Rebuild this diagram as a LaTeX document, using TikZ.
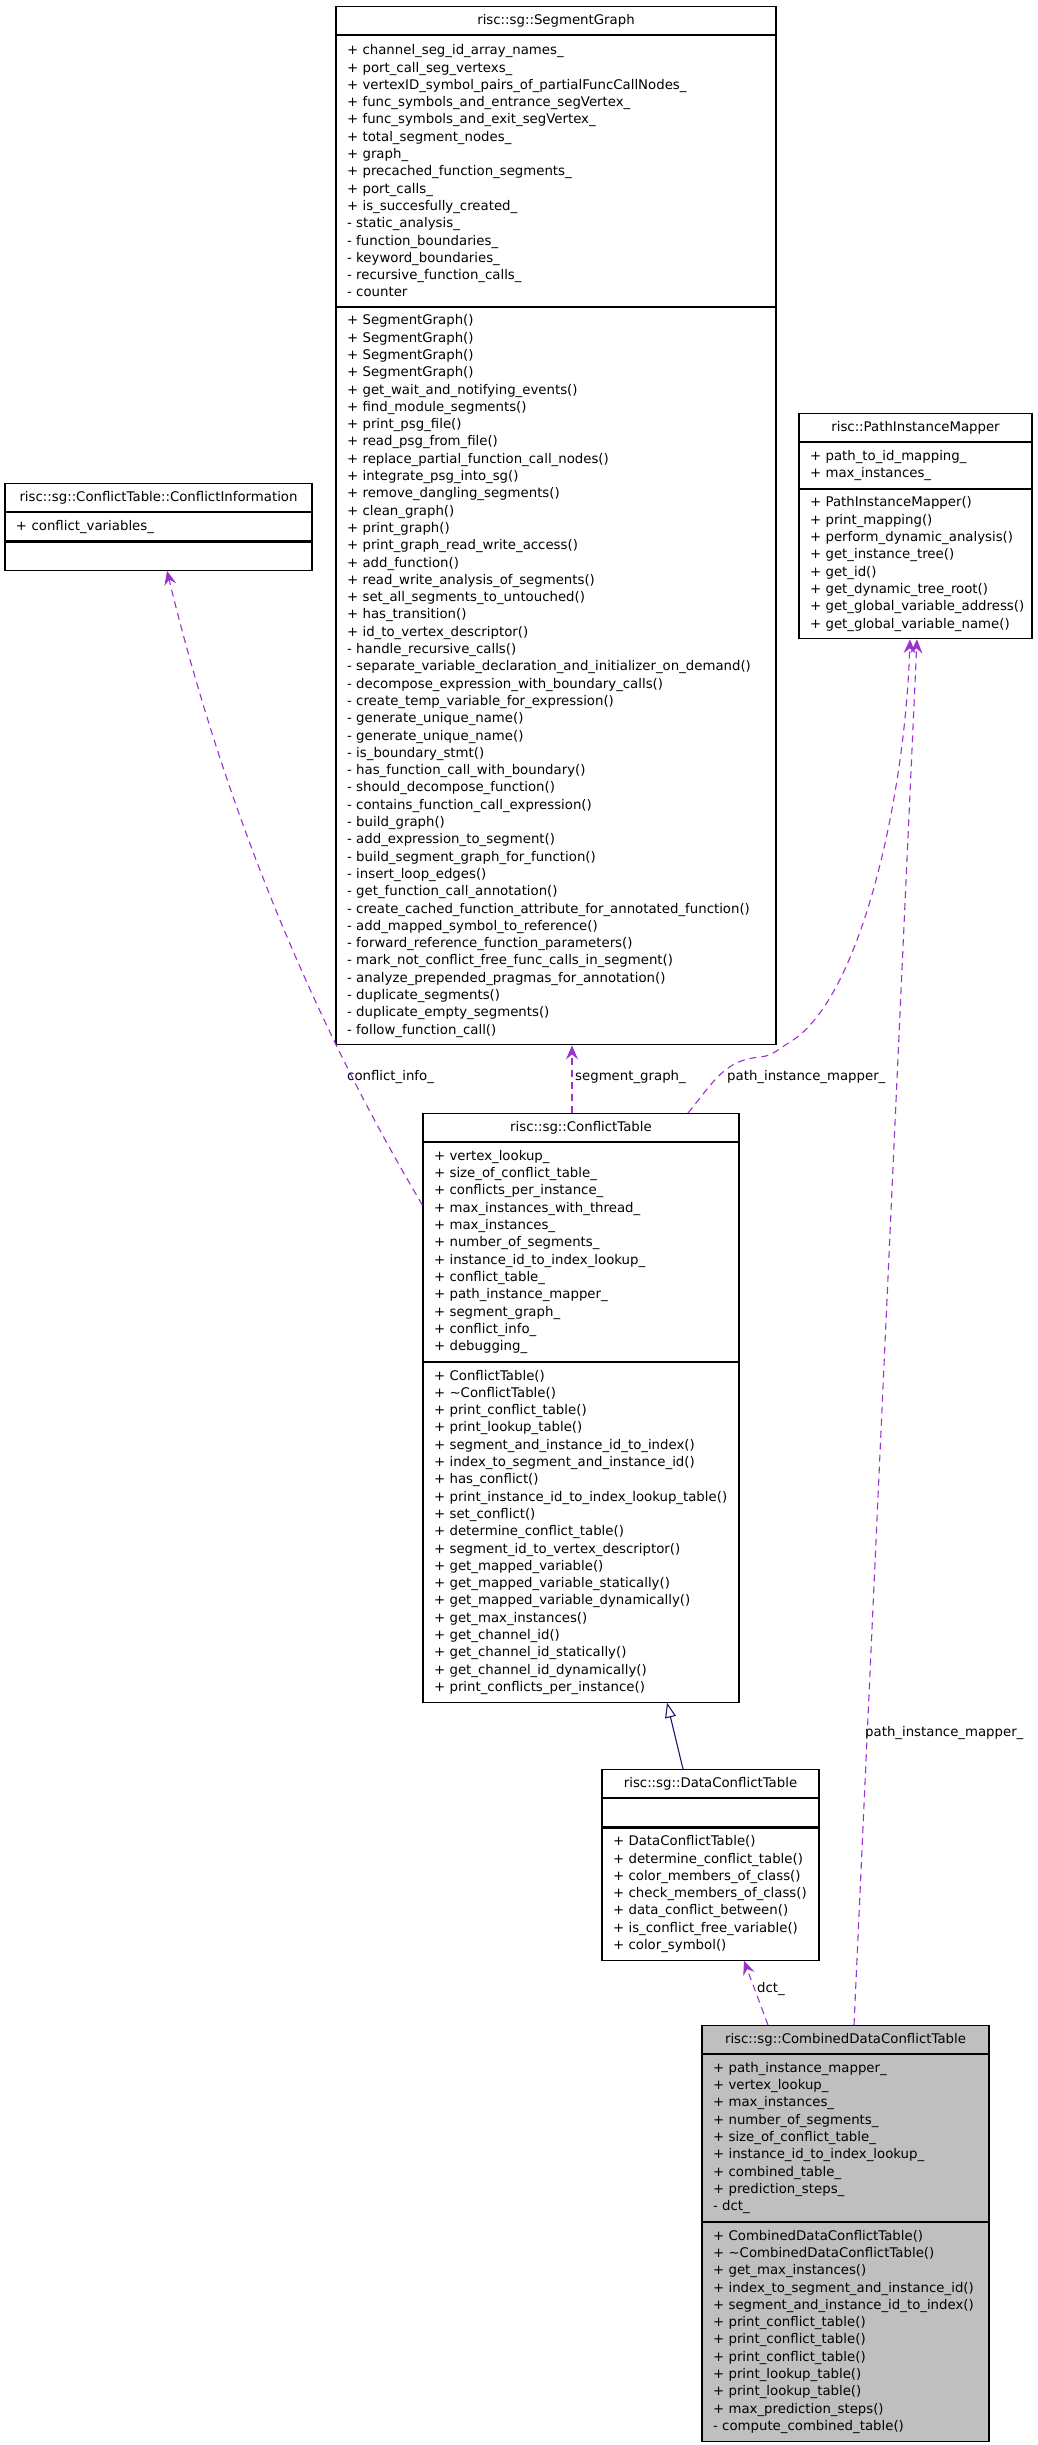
\documentclass[tikz,border=0pt]{standalone}
\usepackage{fontspec}
\setmainfont{DejaVu Sans}
\usetikzlibrary{arrows.meta,positioning}
\definecolor{usecol}{HTML}{9A32CD}
\definecolor{inhcol}{HTML}{191970}
\definecolor{curfill}{HTML}{BFBFBF}
\tikzset{
  cls/.style={draw=black, line width=1.1pt, fill=white, inner xsep=11pt, inner ysep=0pt, anchor=north},
  clstitle/.style={cls, align=center, minimum height=28pt},
  clsbody/.style={cls, align=left, minimum height={17.3*#1+11}},
  uses/.style={draw=usecol, line width=1.1pt, dash pattern=on 7pt off 5pt,
    -{Stealth[length=14pt,width=12pt,inset=5pt]}},
  inherits/.style={draw=inhcol, line width=1.1pt, -{Triangle[open,length=15pt,width=11pt,fill=white]}},
  lbl/.style={inner sep=0pt, anchor=west},
}
\begin{document}
\begin{tikzpicture}[x=1pt, y=-1pt, font=\fontsize{13.3}{17.3}\selectfont]
  \useasboundingbox (0,0) rectangle (1037,2445);

  % SegmentGraph
  \node[clstitle, text width=418pt] (sg) at (556,6) {risc::sg::SegmentGraph};
  \node[clsbody=15, text width=418pt, below=0pt of sg] (sgattr) {%
    +~channel\_seg\_id\_array\_names\_\\
    +~port\_call\_seg\_vertexs\_\\
    +~vertexID\_symbol\_pairs\_of\_partialFuncCallNodes\_\\
    +~func\_symbols\_and\_entrance\_segVertex\_\\
    +~func\_symbols\_and\_exit\_segVertex\_\\
    +~total\_segment\_nodes\_\\
    +~graph\_\\
    +~precached\_function\_segments\_\\
    +~port\_calls\_\\
    +~is\_succesfully\_created\_\\
    -~static\_analysis\_\\
    -~function\_boundaries\_\\
    -~keyword\_boundaries\_\\
    -~recursive\_function\_calls\_\\
    -~counter};
  \node[clsbody=42, text width=418pt, below=0pt of sgattr] (sgops) {%
    +~SegmentGraph()\\
    +~SegmentGraph()\\
    +~SegmentGraph()\\
    +~SegmentGraph()\\
    +~get\_wait\_and\_notifying\_events()\\
    +~find\_module\_segments()\\
    +~print\_psg\_file()\\
    +~read\_psg\_from\_file()\\
    +~replace\_partial\_function\_call\_nodes()\\
    +~integrate\_psg\_into\_sg()\\
    +~remove\_dangling\_segments()\\
    +~clean\_graph()\\
    +~print\_graph()\\
    +~print\_graph\_read\_write\_access()\\
    +~add\_function()\\
    +~read\_write\_analysis\_of\_segments()\\
    +~set\_all\_segments\_to\_untouched()\\
    +~has\_transition()\\
    +~id\_to\_vertex\_descriptor()\\
    -~handle\_recursive\_calls()\\
    -~separate\_variable\_declaration\_and\_initializer\_on\_demand()\\
    -~decompose\_expression\_with\_boundary\_calls()\\
    -~create\_temp\_variable\_for\_expression()\\
    -~generate\_unique\_name()\\
    -~generate\_unique\_name()\\
    -~is\_boundary\_stmt()\\
    -~has\_function\_call\_with\_boundary()\\
    -~should\_decompose\_function()\\
    -~contains\_function\_call\_expression()\\
    -~build\_graph()\\
    -~add\_expression\_to\_segment()\\
    -~build\_segment\_graph\_for\_function()\\
    -~insert\_loop\_edges()\\
    -~get\_function\_call\_annotation()\\
    -~create\_cached\_function\_attribute\_for\_annotated\_function()\\
    -~add\_mapped\_symbol\_to\_reference()\\
    -~forward\_reference\_function\_parameters()\\
    -~mark\_not\_conflict\_free\_func\_calls\_in\_segment()\\
    -~analyze\_prepended\_pragmas\_for\_annotation()\\
    -~duplicate\_segments()\\
    -~duplicate\_empty\_segments()\\
    -~follow\_function\_call()};

  % ConflictInformation
  \node[clstitle, text width=285pt] (ci) at (158.5,483) {risc::sg::ConflictTable::ConflictInformation};
  \node[clsbody=1, text width=285pt, below=0pt of ci] (ciattr) {+~conflict\_variables\_};
  \node[clsbody=1, text width=285pt, below=0pt of ciattr] (ciops) {};

  % PathInstanceMapper
  \node[clstitle, text width=211pt] (pim) at (915.5,413) {risc::PathInstanceMapper};
  \node[clsbody=2, text width=211pt, below=0pt of pim] (pimattr) {%
    +~path\_to\_id\_mapping\_\\
    +~max\_instances\_};
  \node[clsbody=8, text width=211pt, below=0pt of pimattr] (pimops) {%
    +~PathInstanceMapper()\\
    +~print\_mapping()\\
    +~perform\_dynamic\_analysis()\\
    +~get\_instance\_tree()\\
    +~get\_id()\\
    +~get\_dynamic\_tree\_root()\\
    +~get\_global\_variable\_address()\\
    +~get\_global\_variable\_name()};

  % ConflictTable
  \node[clstitle, text width=294pt] (ct) at (581,1113) {risc::sg::ConflictTable};
  \node[clsbody=12, text width=294pt, below=0pt of ct] (ctattr) {%
    +~vertex\_lookup\_\\
    +~size\_of\_conflict\_table\_\\
    +~conflicts\_per\_instance\_\\
    +~max\_instances\_with\_thread\_\\
    +~max\_instances\_\\
    +~number\_of\_segments\_\\
    +~instance\_id\_to\_index\_lookup\_\\
    +~conflict\_table\_\\
    +~path\_instance\_mapper\_\\
    +~segment\_graph\_\\
    +~conflict\_info\_\\
    +~debugging\_};
  \node[clsbody=19, text width=294pt, below=0pt of ctattr] (ctops) {%
    +~ConflictTable()\\
    +~\textasciitilde ConflictTable()\\
    +~print\_conflict\_table()\\
    +~print\_lookup\_table()\\
    +~segment\_and\_instance\_id\_to\_index()\\
    +~index\_to\_segment\_and\_instance\_id()\\
    +~has\_conflict()\\
    +~print\_instance\_id\_to\_index\_lookup\_table()\\
    +~set\_conflict()\\
    +~determine\_conflict\_table()\\
    +~segment\_id\_to\_vertex\_descriptor()\\
    +~get\_mapped\_variable()\\
    +~get\_mapped\_variable\_statically()\\
    +~get\_mapped\_variable\_dynamically()\\
    +~get\_max\_instances()\\
    +~get\_channel\_id()\\
    +~get\_channel\_id\_statically()\\
    +~get\_channel\_id\_dynamically()\\
    +~print\_conflicts\_per\_instance()};

  % DataConflictTable
  \node[clstitle, text width=195pt] (dct) at (710.5,1769) {risc::sg::DataConflictTable};
  \node[clsbody=1, text width=195pt, below=0pt of dct] (dctattr) {};
  \node[clsbody=7, text width=195pt, below=0pt of dctattr] (dctops) {%
    +~DataConflictTable()\\
    +~determine\_conflict\_table()\\
    +~color\_members\_of\_class()\\
    +~check\_members\_of\_class()\\
    +~data\_conflict\_between()\\
    +~is\_conflict\_free\_variable()\\
    +~color\_symbol()};

  % CombinedDataConflictTable
  \node[clstitle, fill=curfill, text width=265pt] (cdct) at (845.5,2025) {risc::sg::CombinedDataConflictTable};
  \node[clsbody=9, fill=curfill, text width=265pt, below=0pt of cdct] (cdctattr) {%
    +~path\_instance\_mapper\_\\
    +~vertex\_lookup\_\\
    +~max\_instances\_\\
    +~number\_of\_segments\_\\
    +~size\_of\_conflict\_table\_\\
    +~instance\_id\_to\_index\_lookup\_\\
    +~combined\_table\_\\
    +~prediction\_steps\_\\
    -~dct\_};
  \node[clsbody=12, fill=curfill, text width=265pt, below=0pt of cdctattr] (cdctops) {%
    +~CombinedDataConflictTable()\\
    +~\textasciitilde CombinedDataConflictTable()\\
    +~get\_max\_instances()\\
    +~index\_to\_segment\_and\_instance\_id()\\
    +~segment\_and\_instance\_id\_to\_index()\\
    +~print\_conflict\_table()\\
    +~print\_conflict\_table()\\
    +~print\_conflict\_table()\\
    +~print\_lookup\_table()\\
    +~print\_lookup\_table()\\
    +~max\_prediction\_steps()\\
    -~compute\_combined\_table()};

  % relations
  \draw[inherits] ([xshift=-27.5pt]dct.north) -- ([xshift=86pt]ctops.south);
  \draw[uses] ([xshift=-9pt]ct.north) -- ([xshift=16pt]sgops.south);
  \draw[uses] ([yshift=-63pt]ctattr.north west) .. controls (297,994) and (217,777) .. ([xshift=8.5pt]ciops.south);
  \draw[uses] ([xshift=107pt]ct.north) .. controls (715,1080) and (725,1060) .. (760,1057)
    .. controls (772,1056) and (777,1050) .. (790,1042)
    .. controls (860,1000) and (905,800) .. ([xshift=-5.5pt]pimops.south);
  \draw[uses] ([xshift=8.5pt]cdct.north) -- ([xshift=1.5pt]pimops.south);
  \draw[uses] ([xshift=-77.5pt]cdct.north) -- ([xshift=33.5pt]dctops.south);

  \node[lbl] (lblci) at (347,1077) {conflict\_info\_};
  \node[lbl] (lblsg) at (575,1077) {segment\_graph\_};
  \node[lbl] (lblpim) at (727,1077) {path\_instance\_mapper\_};
  \node[lbl] (lblpimlong) at (865,1733) {path\_instance\_mapper\_};
  \node[lbl] (lbldct) at (757,1989) {dct\_};
\end{tikzpicture}
\end{document}
